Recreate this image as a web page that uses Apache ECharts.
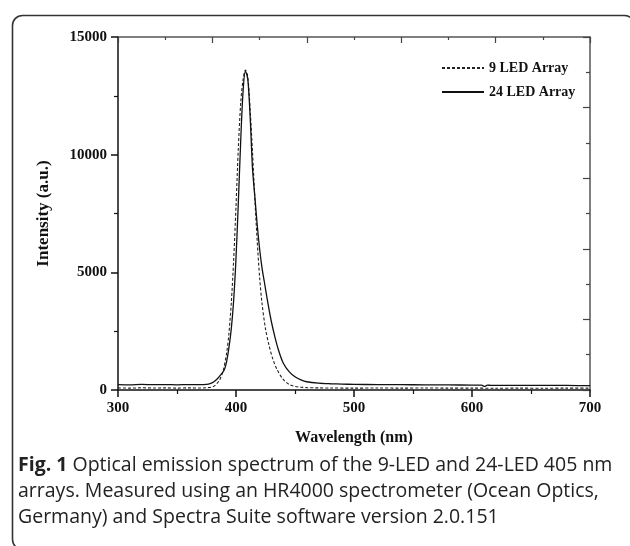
<!DOCTYPE html>
<html>
<head>
<meta charset="utf-8">
<script src="https://cdn.jsdelivr.net/npm/echarts@6/dist/echarts.min.js"></script>
<style>
html,body{margin:0;padding:0;background:#fff;}
#chart{width:630px;height:546px;}
</style>
</head>
<body>
<div id="chart"></div>
<script>
// Wavelength (nm) and intensity (a.u.)
var wl9 = [300,310,320,330,340,350,360,370,375,380,383,386,389,392,394,396,398,400,402,404,406,408,410,412,414,416,418,420,422,425,428,431,435,440,445,450,455,460,470,480,500,520,540,560,580,600,620,640,660,680,700];
var int9 = [90,80,95,85,90,80,90,85,95,130,230,420,800,1550,2400,3700,5500,7800,10300,12200,13200,13600,13300,11900,10100,8100,6300,4800,3700,2600,1900,1350,850,450,240,150,120,100,90,85,80,85,80,85,80,80,75,80,75,80,80];

var wl24 = [300,310,320,330,340,350,360,370,375,378,381,384,387,390,392,394,396,398,400,402,404,406,408,410,412,414,416,418,420,422,424,427,430,433,436,440,445,450,455,460,470,480,490,500,520,540,560,580,600,608,611,613,616,630,650,670,690,700];
var int24 = [230,220,235,225,230,220,230,225,240,270,340,470,640,850,1200,1800,2600,3800,5600,8000,10600,12700,13550,13200,11600,9400,8200,7000,6000,5200,4600,3700,2900,2250,1700,1150,780,560,430,350,290,265,250,240,230,225,220,215,210,205,150,205,200,200,195,195,190,190];

var seriesNames = ['9 LED Array', '24 LED Array'];
var xTitle = 'Wavelength (nm)';
var yTitle = 'Intensity (a.u.)';
var captionLines = [
  ['Fig. 1', ' Optical emission spectrum of the 9-LED and 24-LED 405 nm'],
  ['', 'arrays. Measured using an HR4000 spectrometer (Ocean Optics,'],
  ['', 'Germany) and Spectra Suite software version 2.0.151']
];

function zip(a, b){ return a.map(function(v,i){ return [v, b[i]]; }); }

var serif = 'Liberation Serif';
var chart = echarts.init(document.getElementById('chart'), null, {renderer:'canvas'});

var captionGraphics = captionLines.map(function(l, i){
  return {
    type: 'text', left: 18, top: 455 + i*26,
    style: {
      text: (l[0] ? '{b|' + l[0] + '}' : '') + '{n|' + l[1] + '}',
      rich: {
        b: {fontFamily:'Open Sans', fontWeight:'bold', fontSize:19.5, fill:'#222'},
        n: {fontFamily:'Open Sans', fontSize:19.5, fill:'#222'}
      }
    }
  };
});

var option = {
  animation: false,
  backgroundColor: '#fff',
  grid: {left:118, right:40, top:37, bottom:156, containLabel:false},
  legend: {
    orient: 'vertical', left: 436, top: 56, itemWidth: 42, itemHeight: 14, itemGap: 10,
    itemStyle: {opacity: 0},
    textStyle: {fontFamily: serif, fontWeight:'bold', fontSize:14, color:'#111'},
    data: seriesNames
  },
  xAxis: [
    {
      type:'value', position:'bottom', min:300, max:700, interval:100,
      name: xTitle, nameLocation:'middle', nameGap:40,
      nameTextStyle:{fontFamily:serif, fontWeight:'bold', fontSize:16, color:'#111'},
      axisLine:{show:true, onZero:false, lineStyle:{color:'#111', width:1.5}},
      axisTick:{show:true, inside:false, length:7, lineStyle:{color:'#111', width:1.5}},
      minorTick:{show:true, splitNumber:2, length:4, lineStyle:{color:'#111', width:1.2}},
      axisLabel:{fontFamily:serif, fontWeight:'bold', fontSize:15, color:'#111', margin:11,
        formatter: function(v){ return String(v); }},
      splitLine:{show:false}
    },
    {
      type:'value', position:'top', min:0, max:10, interval:2,
      axisLine:{show:true, onZero:false, lineStyle:{color:'#555', width:1.5}},
      axisTick:{show:true, inside:true, length:6, lineStyle:{color:'#444', width:1.2}},
      minorTick:{show:true, splitNumber:2, length:3, lineStyle:{color:'#444', width:1.2}},
      axisLabel:{show:false}, splitLine:{show:false}
    }
  ],
  yAxis: [
    {
      type:'value', position:'left', min:0, max:15000, interval:5000,
      name: yTitle, nameLocation:'middle', nameGap:66,
      nameTextStyle:{fontFamily:serif, fontWeight:'bold', fontSize:17, color:'#111'},
      axisLine:{show:true, onZero:false, lineStyle:{color:'#111', width:1.5}},
      axisTick:{show:true, inside:false, length:7, lineStyle:{color:'#111', width:1.5}},
      minorTick:{show:true, splitNumber:2, length:4, lineStyle:{color:'#111', width:1.2}},
      axisLabel:{fontFamily:serif, fontWeight:'bold', fontSize:15, color:'#111', margin:11,
        formatter: function(v){ return String(v); }},
      splitLine:{show:false}
    },
    {
      type:'value', position:'right', min:0, max:10, interval:2,
      axisLine:{show:true, onZero:false, lineStyle:{color:'#555', width:1.5}},
      axisTick:{show:true, inside:true, length:7, lineStyle:{color:'#444', width:1.2}},
      minorTick:{show:true, splitNumber:2, length:4, lineStyle:{color:'#444', width:1.2}},
      axisLabel:{show:false}, splitLine:{show:false}
    }
  ],
  series: [
    {
      name: seriesNames[0], type:'line', xAxisIndex:0, yAxisIndex:0,
      data: zip(wl9, int9), symbol:'none', smooth:0.3,
      lineStyle:{color:'#222', width:1.1, type:[3,2]}, itemStyle:{color:'#222'}
    },
    {
      name: seriesNames[1], type:'line', xAxisIndex:0, yAxisIndex:0,
      data: zip(wl24, int24), symbol:'none', smooth:0.3,
      lineStyle:{color:'#111', width:1.3}, itemStyle:{color:'#111'}
    }
  ],
  graphic: [
    {
      type:'rect', left:10, top:13, z:-1,
      shape:{width:622, height:534, r:10},
      style:{fill:'none', stroke:'#333', lineWidth:1.6}
    }
  ].concat(captionGraphics)
};
chart.setOption(option);
</script>
</body>
</html>
